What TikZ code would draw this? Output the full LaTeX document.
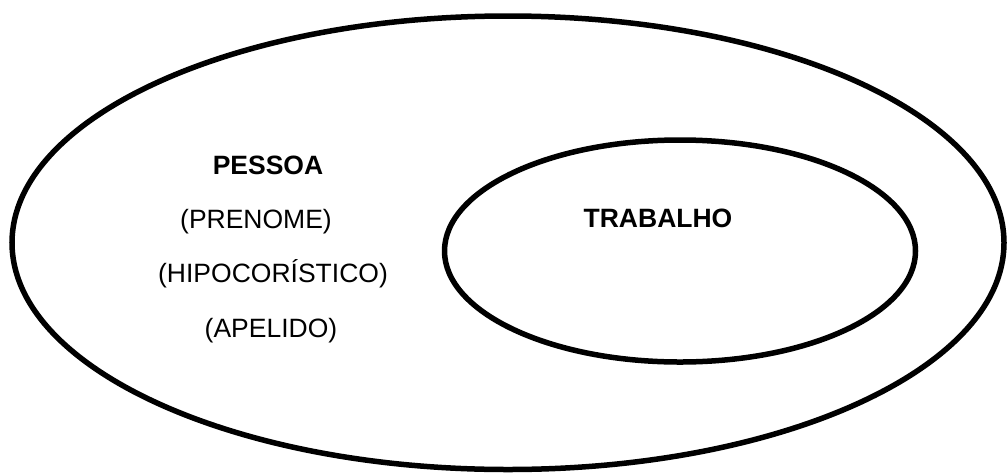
\documentclass[tikz,border=0pt]{standalone}
\usepackage{fontspec}
\setmainfont{Liberation Sans}
\begin{document}
\begin{tikzpicture}[x=1pt,y=1pt,
  ring/.style={draw=black,line width=5.5pt},
  lbl/.style={anchor=base,inner sep=0pt,font=\fontsize{26.5}{30}\selectfont},
  hd/.style={lbl,font=\fontsize{26.5}{30}\selectfont\bfseries}]
\useasboundingbox (0,0) rectangle (1008,-472);
\draw[ring] (508,-242.75) ellipse [x radius=496pt,y radius=226.75pt];
\draw[ring] (680,-251) ellipse [x radius=235.5pt,y radius=111pt];
\node[hd] (pessoa) at (268,-174) {PESSOA};
\node[lbl] (prenome) at (256,-228) {(PRENOME)};
\node[lbl] (hipo) at (273,-282.5) {(HIPOCORÍSTICO)};
\node[lbl] (apelido) at (271,-337) {(APELIDO)};
\node[hd] (trabalho) at (658,-227) {TRABALHO};
\end{tikzpicture}
\end{document}
